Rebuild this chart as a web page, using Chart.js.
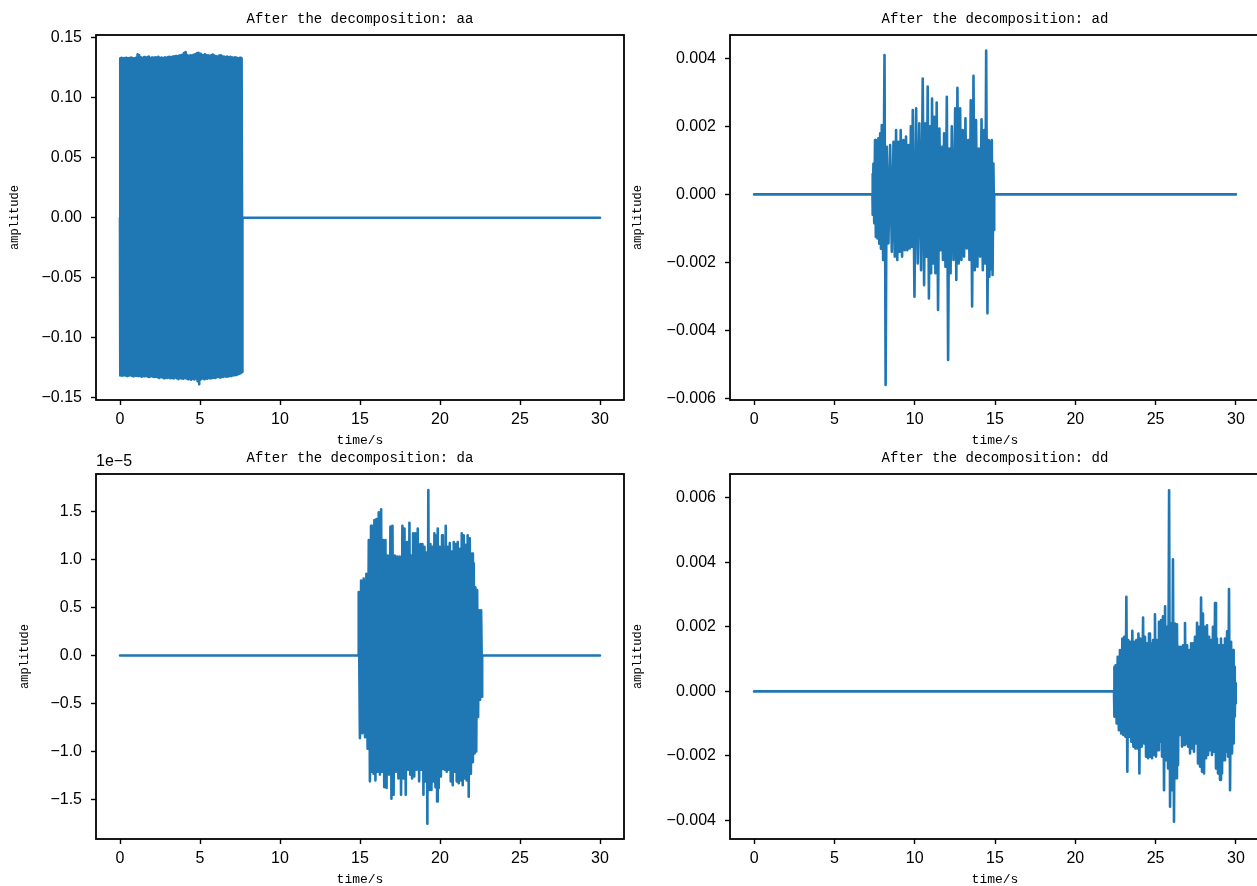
<!DOCTYPE html>
<html>
<head>
<meta charset="utf-8">
<script src="https://cdn.jsdelivr.net/npm/chart.js@4.4.0/dist/chart.umd.min.js"></script>
<style>
  html, body { margin: 0; padding: 0; background: #fff; overflow: hidden; width: 1257px; height: 886px; }
  canvas { position: absolute; }
</style>
</head>
<body>
<canvas id="aa" width="640" height="455" style="left:0px;top:0px"></canvas>
<canvas id="ad" width="650" height="455" style="left:628px;top:0px"></canvas>
<canvas id="da" width="640" height="455" style="left:0px;top:439px"></canvas>
<canvas id="dd" width="650" height="455" style="left:628px;top:439px"></canvas>
<script>
// time axis (seconds)
const timeStart = 0;
const timeEnd = 30;
const xTicks = [0, 5, 10, 15, 20, 25, 30];
const xTickLabels = ['0', '5', '10', '15', '20', '25', '30'];

const aaTime = [0,0.1,0.2,0.3,0.4,0.5,0.6,0.7,0.8,0.9,1.0,
  1.1,1.2,1.3,1.4,1.5,1.6,1.7,1.8,1.9,2.0,
  2.1,2.2,2.3,2.4,2.5,2.6,2.7,2.8,2.9,3.0,
  3.1,3.2,3.3,3.4,3.5,3.6,3.7,3.8,3.9,4.0,
  4.1,4.2,4.3,4.4,4.5,4.6,4.7,4.8,4.9,5.0,
  5.1,5.2,5.3,5.4,5.5,5.6,5.7,5.8,5.9,6.0,
  6.1,6.2,6.3,6.4,6.5,6.6,6.7,6.8,6.9,7.0,
  7.1,7.2,7.3,7.4,7.5,7.6];
const aaHigh = [0.1328,0.1332,0.1327,0.1330,0.1333,0.1328,0.1331,0.1334,0.1329,0.1327,0.1332,
  0.1362,0.1352,0.1336,0.1331,0.1338,0.1333,0.1336,0.1342,0.1331,0.1334,
  0.1330,0.1337,0.1335,0.1340,0.1331,0.1334,0.1329,0.1336,0.1333,0.1338,
  0.1340,0.1337,0.1343,0.1345,0.1347,0.1340,0.1350,0.1353,0.1357,0.1372,
  0.1380,0.1355,0.1347,0.1353,0.1350,0.1357,0.1362,0.1370,0.1374,0.1365,
  0.1357,0.1352,0.1362,0.1356,0.1350,0.1347,0.1352,0.1360,0.1350,0.1345,
  0.1342,0.1350,0.1354,0.1344,0.1340,0.1335,0.1342,0.1337,0.1340,0.1334,
  0.1332,0.1336,0.1333,0.1329,0.1332,0.1328];
const aaLow = [-0.1312,-0.1315,-0.1310,-0.1313,-0.1318,-0.1314,-0.1310,-0.1316,-0.1320,-0.1314,-0.1316,
  -0.1318,-0.1316,-0.1323,-0.1318,-0.1320,-0.1316,-0.1323,-0.1326,-0.1318,-0.1322,
  -0.1326,-0.1323,-0.1328,-0.1333,-0.1326,-0.1330,-0.1336,-0.1328,-0.1333,-0.1330,
  -0.1336,-0.1333,-0.1338,-0.1330,-0.1336,-0.1343,-0.1333,-0.1338,-0.1340,-0.1333,
  -0.1338,-0.1343,-0.1336,-0.1348,-0.1340,-0.1346,-0.1338,-0.1360,-0.1385,-0.1345,
  -0.1338,-0.1343,-0.1336,-0.1340,-0.1333,-0.1338,-0.1333,-0.1330,-0.1333,-0.1328,
  -0.1326,-0.1330,-0.1323,-0.1326,-0.1318,-0.1323,-0.1320,-0.1316,-0.1318,-0.1313,
  -0.1310,-0.1308,-0.1303,-0.1298,-0.1293,-0.1283];
const aaTicks = [-0.15, -0.10, -0.05, 0, 0.05, 0.10, 0.15];
const aaTickLabels = ['\u22120.15', '\u22120.10', '\u22120.05', '0.00', '0.05', '0.10', '0.15'];
const aaRange = [-0.1517, 0.1522];

// ad: burst 7.4 - 14.9 s
const adTime = [7.37,7.43,7.53,7.63,7.74,7.85,7.95,8.12,8.26,8.47,
  8.68,8.84,8.99,9.13,9.30,9.46,9.61,9.76,9.88,10.09,
  10.29,10.50,10.67,10.81,10.96,11.08,11.21,11.37,11.54,11.69,
  11.83,12.00,12.16,12.31,12.52,12.66,12.83,12.99,13.16,13.33,
  13.49,13.66,13.82,13.99,14.16,14.32,14.45,14.61,14.70,14.80,
  14.90];
const adHigh = [0.60e-3,0.90e-3,1.60e-3,1.50e-3,1.65e-3,1.80e-3,2.04e-3,4.10e-3,1.40e-3,1.45e-3,
  1.55e-3,1.89e-3,1.55e-3,1.89e-3,1.60e-3,1.70e-3,1.45e-3,2.00e-3,2.48e-3,2.53e-3,
  2.09e-3,3.41e-3,2.09e-3,3.17e-3,2.00e-3,2.82e-3,2.28e-3,2.70e-3,1.94e-3,1.40e-3,
  1.80e-3,2.87e-3,1.35e-3,2.00e-3,2.53e-3,3.14e-3,2.53e-3,1.89e-3,2.24e-3,1.60e-3,
  2.77e-3,3.49e-3,2.19e-3,1.35e-3,2.21e-3,1.89e-3,4.23e-3,1.60e-3,1.55e-3,1.60e-3,
  0.91e-3];
const adLow = [-0.60e-3,-0.85e-3,-1.25e-3,-1.30e-3,-1.45e-3,-1.60e-3,-1.93e-3,-5.61e-3,-1.44e-3,-1.69e-3,
  -1.83e-3,-1.93e-3,-1.69e-3,-1.83e-3,-1.64e-3,-1.64e-3,-1.59e-3,-1.54e-3,-3.01e-3,-2.03e-3,
  -2.23e-3,-2.67e-3,-1.83e-3,-3.06e-3,-2.32e-3,-2.03e-3,-2.32e-3,-3.40e-3,-1.64e-3,-1.93e-3,
  -2.13e-3,-4.87e-3,-2.32e-3,-1.93e-3,-2.52e-3,-2.03e-3,-1.93e-3,-1.83e-3,-1.59e-3,-1.93e-3,
  -3.30e-3,-2.23e-3,-2.13e-3,-1.83e-3,-2.23e-3,-2.03e-3,-3.50e-3,-2.42e-3,-2.20e-3,-2.37e-3,
  -1.05e-3];
const adTicks = [-0.006, -0.004, -0.002, 0, 0.002, 0.004];
const adTickLabels = ['\u22120.006', '\u22120.004', '\u22120.002', '0.000', '0.002', '0.004'];
const adRange = [-0.00605, 0.00469];

// da: burst 14.9 - 22.6 s, values in units of 1e-5
const daOffsetText = '1e\u22125';
const daTime = [14.92,15.07,15.23,15.40,15.55,15.69,15.80,15.90,16.03,16.17,
  16.32,16.44,16.59,16.73,16.90,17.03,17.17,17.32,17.48,17.65,
  17.78,17.94,18.09,18.19,18.32,18.46,18.61,18.78,18.90,19.03,
  19.15,19.27,19.40,19.53,19.65,19.78,19.86,19.98,20.13,20.23,
  20.36,20.48,20.61,20.73,20.86,20.98,21.11,21.23,21.36,21.48,
  21.61,21.73,21.86,22.00,22.11,22.21,22.32,22.44,22.57];
const daHigh = [0.66,0.78,0.80,0.85,1.20,1.35,1.20,1.41,1.42,1.49,
  1.52,1.20,1.20,1.04,1.34,1.35,1.04,1.03,1.03,1.35,
  1.32,1.18,1.38,1.04,1.27,1.27,1.32,1.16,1.16,1.13,
  1.07,1.72,1.16,1.13,1.27,1.25,1.32,1.13,1.25,1.13,
  1.35,1.13,1.17,1.08,1.18,1.16,1.18,1.11,1.27,1.25,
  1.15,1.25,1.22,1.06,0.96,0.71,0.68,0.47,0.47];
const daLow = [-0.86,-0.81,-0.85,-0.97,-1.31,-1.21,-1.23,-1.30,-1.21,-1.24,
  -1.21,-1.37,-1.38,-1.24,-1.49,-1.45,-1.21,-1.28,-1.45,-1.28,
  -1.45,-1.19,-1.24,-1.28,-1.26,-1.19,-1.31,-1.19,-1.45,-1.31,
  -1.75,-1.40,-1.40,-1.31,-1.37,-1.52,-1.38,-1.26,-1.18,-1.19,
  -1.21,-1.19,-1.31,-1.35,-1.21,-1.31,-1.33,-1.30,-1.35,-1.28,
  -1.30,-1.47,-1.23,-1.11,-1.02,-1.00,-0.64,-0.46,-0.43];
const daTicks = [-1.5, -1.0, -0.5, 0, 0.5, 1.0, 1.5];
const daTickLabels = ['\u22121.5', '\u22121.0', '\u22120.5', '0.0', '0.5', '1.0', '1.5'];
const daRange = [-1.91, 1.888];

// dd: burst 22.4 - 30 s
const ddTime = [22.41,22.51,22.64,22.78,22.93,23.05,23.18,23.30,23.43,23.55,
  23.68,23.80,23.93,24.05,24.22,24.34,24.47,24.59,24.71,24.84,
  24.96,25.09,25.21,25.34,25.46,25.59,25.71,25.84,25.96,26.08,
  26.21,26.33,26.46,26.58,26.71,26.83,26.96,27.08,27.21,27.33,
  27.45,27.58,27.70,27.83,27.95,28.08,28.20,28.33,28.45,28.57,
  28.70,28.82,28.95,29.07,29.20,29.32,29.45,29.57,29.70,29.82,
  29.90,29.96];
const ddHigh = [0.76e-3,0.81e-3,1.07e-3,1.28e-3,1.64e-3,1.69e-3,2.93e-3,1.59e-3,1.54e-3,1.88e-3,
  1.54e-3,1.59e-3,1.79e-3,1.64e-3,2.29e-3,1.69e-3,1.49e-3,1.79e-3,1.49e-3,1.59e-3,
  2.39e-3,1.59e-3,2.16e-3,2.21e-3,2.33e-3,2.64e-3,2.00e-3,6.23e-3,2.10e-3,4.09e-3,
  2.10e-3,2.08e-3,1.38e-3,1.38e-3,1.43e-3,2.12e-3,1.43e-3,1.28e-3,1.49e-3,1.49e-3,
  1.69e-3,2.13e-3,2.00e-3,2.91e-3,2.41e-3,2.00e-3,2.05e-3,1.69e-3,1.59e-3,2.00e-3,
  2.74e-3,1.64e-3,1.43e-3,1.64e-3,1.43e-3,1.64e-3,1.86e-3,3.17e-3,1.54e-3,1.28e-3,
  0.76e-3,0.25e-3];
const ddLow = [-0.78e-3,-0.99e-3,-1.20e-3,-1.30e-3,-1.35e-3,-1.40e-3,-2.49e-3,-1.40e-3,-1.56e-3,-1.71e-3,
  -1.77e-3,-1.77e-3,-2.54e-3,-1.71e-3,-1.61e-3,-2.02e-3,-2.07e-3,-2.02e-3,-2.07e-3,-1.97e-3,
  -2.02e-3,-1.82e-3,-1.56e-3,-2.02e-3,-3.06e-3,-2.13e-3,-2.39e-3,-3.57e-3,-3.06e-3,-4.04e-3,
  -2.69e-3,-2.28e-3,-1.35e-3,-1.71e-3,-1.66e-3,-1.61e-3,-1.71e-3,-1.92e-3,-1.77e-3,-1.87e-3,
  -1.61e-3,-2.23e-3,-2.33e-3,-2.49e-3,-2.54e-3,-2.07e-3,-1.97e-3,-1.82e-3,-1.97e-3,-1.87e-3,
  -2.39e-3,-2.54e-3,-2.74e-3,-2.54e-3,-2.13e-3,-1.87e-3,-2.02e-3,-3.06e-3,-1.92e-3,-1.61e-3,
  -0.78e-3,-0.37e-3];
const ddTicks = [-0.004, -0.002, 0, 0.002, 0.004, 0.006];
const ddTickLabels = ['\u22120.004', '\u22120.002', '0.000', '0.002', '0.004', '0.006'];
const ddRange = [-0.004573, 0.006737];

Chart.defaults.font.family = '"Liberation Sans", sans-serif';
Chart.defaults.color = '#000';

// quiet line, then each peak followed by its trough, then quiet again
function buildSeries(times, highs, lows) {
  const pts = [{ x: timeStart, y: 0 }, { x: times[0], y: 0 }];
  for (let i = 0; i < times.length; i++) {
    const next = i + 1 < times.length ? times[i + 1] : times[i] + (times[i] - times[i - 1]);
    pts.push({ x: times[i], y: highs[i] });
    pts.push({ x: (times[i] + next) / 2, y: lows[i] });
  }
  const last = pts[pts.length - 1].x;
  pts.push({ x: last, y: 0 });
  if (last < timeEnd) pts.push({ x: timeEnd, y: 0 });
  return pts;
}

const framePlugin = {
  id: 'frame',
  afterDatasetsDraw(chart) {
    const { ctx, chartArea: a } = chart;
    ctx.save();
    ctx.strokeStyle = '#000';
    ctx.lineWidth = 1.8;
    ctx.strokeRect(a.left, a.top, a.right - a.left, a.bottom - a.top);
    ctx.restore();
  }
};

const offsetTextPlugin = {
  id: 'offsetText',
  afterDraw(chart, args, opts) {
    if (!opts.text) return;
    const { ctx, chartArea: a } = chart;
    ctx.save();
    ctx.font = '16px "Liberation Sans"';
    ctx.fillStyle = '#000';
    ctx.textAlign = 'left';
    ctx.textBaseline = 'bottom';
    ctx.fillText(opts.text, a.left, a.top - 4);
    ctx.restore();
  }
};

const tickFont = { family: '"Liberation Sans"', size: 16 };

function makePanel(id, name, series, yTicks, yTickLabels, yRange, yAxisWidth, yTitlePad, rightPad, offsetText) {
  new Chart(document.getElementById(id), {
    type: 'line',
    data: {
      datasets: [{
        data: series,
        borderColor: '#1f77b4',
        borderWidth: 2.6,
        borderJoinStyle: 'round',
        borderCapStyle: 'round',
        pointRadius: 0,
        fill: false,
        tension: 0
      }]
    },
    options: {
      responsive: false,
      devicePixelRatio: 1,
      animation: false,
      events: [],
      layout: { padding: { left: 0, right: rightPad, top: 0, bottom: 0 } },
      plugins: {
        legend: { display: false },
        tooltip: { enabled: false },
        title: {
          display: true,
          text: 'After the decomposition: ' + name,
          fullSize: false,
          color: '#000',
          font: { family: '"Liberation Mono"', size: 14, weight: 'normal' },
          padding: { top: 10.6, bottom: 7.6 }
        },
        offsetText: { text: offsetText }
      },
      scales: {
        x: {
          type: 'linear',
          min: -1.5,
          max: 31.5,
          afterBuildTicks: s => { s.ticks = xTicks.map(v => ({ value: v })); },
          afterFit: s => { s.height = 55; },
          ticks: { callback: (v, i) => xTickLabels[i], font: tickFont, color: '#000', padding: 5, maxRotation: 0, autoSkip: false },
          grid: { drawOnChartArea: false, drawTicks: true, tickLength: 5, tickWidth: 1.4, tickColor: '#000' },
          border: { display: false },
          title: { display: true, text: 'time/s', color: '#000', font: { family: '"Liberation Mono"', size: 13 }, padding: { top: 0, bottom: 6.2 } }
        },
        y: {
          type: 'linear',
          min: yRange[0],
          max: yRange[1],
          afterBuildTicks: s => { s.ticks = yTicks.map(v => ({ value: v })); },
          afterFit: s => { s.width = yAxisWidth; },
          ticks: { callback: (v, i) => yTickLabels[i], font: tickFont, color: '#000', padding: 9, autoSkip: false },
          grid: { drawOnChartArea: false, drawTicks: true, tickLength: 5, tickWidth: 1.4, tickColor: '#000' },
          border: { display: false },
          title: { display: true, text: 'amplitude', color: '#000', font: { family: '"Liberation Mono"', size: 12 }, padding: { top: yTitlePad, bottom: 0 } }
        }
      }
    },
    plugins: [framePlugin, offsetTextPlugin]
  });
}

makePanel('aa', 'aa', buildSeries(aaTime, aaHigh, aaLow), aaTicks, aaTickLabels, aaRange, 96, 7.8, 16, '');
makePanel('ad', 'ad', buildSeries(adTime, adHigh, adLow), adTicks, adTickLabels, adRange, 102, 2.8, 18, '');
makePanel('da', 'da', buildSeries(daTime, daHigh, daLow), daTicks, daTickLabels, daRange, 96, 17.8, 16, daOffsetText);
makePanel('dd', 'dd', buildSeries(ddTime, ddHigh, ddLow), ddTicks, ddTickLabels, ddRange, 102, 2.8, 18, '');
</script>
</body>
</html>
